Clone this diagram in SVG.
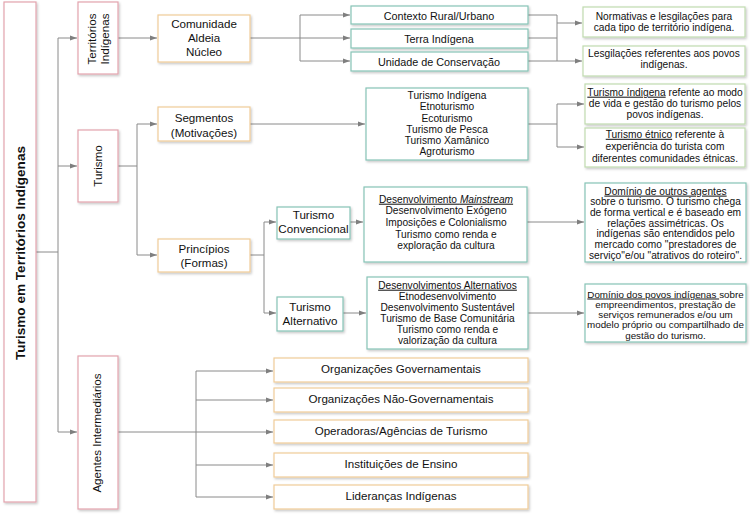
<svg xmlns="http://www.w3.org/2000/svg" width="750" height="515" viewBox="0 0 750 515">
<defs>
<filter id="sh" x="-10%" y="-10%" width="130%" height="130%">
<feDropShadow dx="1.2" dy="1.5" stdDeviation="0.9" flood-color="#000" flood-opacity="0.22"/>
</filter>
<marker id="ar" markerUnits="userSpaceOnUse" markerWidth="7" markerHeight="6" refX="7" refY="3" orient="auto">
<path d="M0,0.6 L7,3 L0,5.4 z" fill="#7f7f7f"/>
</marker>
</defs>
<style>
rect{fill:#fff;stroke-width:1.2;filter:url(#sh)}
.pk{stroke:#e3a3ad}
.or{stroke:#f0cc98}
.tl{stroke:#86c4b6}
.gr{stroke:#c0dbb0}
text{font-family:"Liberation Sans",Arial,sans-serif;fill:#111;text-anchor:middle}
.t12{font-size:11.6px}
.t11{font-size:10.8px}
.t10{font-size:10.2px}
.t9{font-size:9.8px}
.ttl{font-size:13.6px;font-weight:bold}
.u{text-decoration:underline}
#conn path{fill:none;stroke:#8a8a8a;stroke-width:1}
#conn path.a{marker-end:url(#ar)}
</style>
<rect width="750" height="515" fill="#fff" stroke="none" style="filter:none"/>

<g id="conn">
<path d="M36,252 H58 M58,38 V432"/>
<path class="a" d="M58,38 H77"/>
<path class="a" d="M58,166 H77"/>
<path class="a" d="M58,432 H77"/>
<path class="a" d="M118,38 H157"/>
<path class="a" d="M250,38 H350"/>
<path d="M300,15 V61"/>
<path class="a" d="M300,15 H350"/>
<path class="a" d="M300,61 H350"/>
<path d="M528,15 H557 M528,38 H557 M528,61 H557 M557,15 V61"/>
<path class="a" d="M557,23 H582"/>
<path class="a" d="M557,61 H582"/>
<path d="M118,166 H137 M137,124 V255"/>
<path class="a" d="M137,124 H157"/>
<path class="a" d="M137,255 H157"/>
<path class="a" d="M250,124 H365"/>
<path d="M528,124 H557 M557,104 V147"/>
<path class="a" d="M557,104 H584"/>
<path class="a" d="M557,147 H584"/>
<path d="M250,255 H264 M264,222 V313"/>
<path class="a" d="M264,222 H276"/>
<path class="a" d="M264,313 H276"/>
<path class="a" d="M350,222 H363"/>
<path class="a" d="M343,313 H366"/>
<path class="a" d="M527,222 H584"/>
<path class="a" d="M528,313 H584"/>
<path d="M118,432 H196 M196,371 V497"/>
<path class="a" d="M196,371 H273"/>
<path class="a" d="M196,400 H273"/>
<path class="a" d="M196,432 H273"/>
<path class="a" d="M196,465 H273"/>
<path class="a" d="M196,497 H273"/>
</g>

<g id="main">
<rect class="pk" x="4" y="2" width="32" height="500"/>
<text class="ttl" transform="translate(20,253) rotate(-90)" y="5">Turismo em Territórios Indígenas</text>
</g>
<g id="territorios">
<rect class="pk" x="78" y="2" width="40" height="72"/>
<text class="t12" transform="translate(98,39) rotate(-90)"><tspan x="0" y="-2.5">Territórios</tspan><tspan x="0" y="10.5">Indígenas</tspan></text>
</g>
<g id="turismo">
<rect class="pk" x="78" y="130" width="40" height="72"/>
<text class="t12" transform="translate(98,166) rotate(-90)" y="4">Turismo</text>
</g>
<g id="agentes">
<rect class="pk" x="78" y="356" width="40" height="153"/>
<text class="t12" transform="translate(98,433) rotate(-90)" y="3">Agentes Intermediários</text>
</g>

<g id="comunidade">
<rect class="or" x="158" y="15" width="92" height="47"/>
<text class="t12"><tspan x="204" y="28">Comunidade</tspan><tspan x="204" y="42">Aldeia</tspan><tspan x="204" y="56">Núcleo</tspan></text>
</g>
<g id="segmentos">
<rect class="or" x="158" y="107" width="92" height="34"/>
<text class="t12"><tspan x="204" y="121.5">Segmentos</tspan><tspan x="204" y="136.5">(Motivações)</tspan></text>
</g>
<g id="principios">
<rect class="or" x="158" y="239" width="92" height="33"/>
<text class="t12"><tspan x="204" y="253">Princípios</tspan><tspan x="204" y="266.5">(Formas)</tspan></text>
</g>

<g id="contexto">
<rect class="tl" x="351" y="6" width="177" height="18"/>
<text class="t11" x="439" y="19.5">Contexto Rural/Urbano</text>
</g>
<g id="terra">
<rect class="tl" x="351" y="29" width="177" height="19"/>
<text class="t11" x="439" y="42.8">Terra Indígena</text>
</g>
<g id="unidade">
<rect class="tl" x="351" y="52" width="177" height="19"/>
<text class="t11" x="439" y="65.6">Unidade de Conservação</text>
</g>

<g id="normativas">
<rect class="gr" x="583" y="7" width="162" height="30"/>
<text class="t10"><tspan x="664" y="19.5">Normativas e lesgilações para</tspan><tspan x="664" y="30.5">cada tipo de território indígena.</tspan></text>
</g>
<g id="legislacoes">
<rect class="gr" x="583" y="46" width="162" height="30"/>
<text class="t10"><tspan x="664" y="56.7">Lesgilações referentes aos povos</tspan><tspan x="664" y="67.7">indígenas.</tspan></text>
</g>

<g id="segmentos-lista">
<rect class="tl" x="366" y="88" width="162" height="72"/>
<text class="t10"><tspan x="447" y="99.3">Turismo Indígena</tspan><tspan x="447" y="110.4">Etnoturismo</tspan><tspan x="447" y="121.5">Ecoturismo</tspan><tspan x="447" y="132.6">Turismo de Pesca</tspan><tspan x="447" y="143.7">Turismo Xamânico</tspan><tspan x="447" y="154.8">Agroturismo</tspan></text>
</g>
<g id="turismo-indigena">
<rect class="gr" x="585" y="84" width="160" height="40"/>
<text class="t10"><tspan x="665" y="95.7"><tspan class="u">Turismo índigena</tspan> refente ao modo</tspan><tspan x="665" y="107">de vida e gestão do turismo pelos</tspan><tspan x="665" y="118.3">povos indígenas.</tspan></text>
</g>
<g id="turismo-etnico">
<rect class="gr" x="585" y="128" width="160" height="39"/>
<text class="t10"><tspan x="665" y="137.8"><tspan class="u">Turismo étnico</tspan> referente à</tspan><tspan x="665" y="150">experiência do turista com</tspan><tspan x="665" y="162.2">diferentes comunidades étnicas.</tspan></text>
</g>

<g id="convencional">
<rect class="tl" x="277" y="207" width="73" height="32"/>
<text class="t12"><tspan x="313.5" y="219">Turismo</tspan><tspan x="313.5" y="233">Convencional</tspan></text>
</g>
<g id="alternativo">
<rect class="tl" x="277" y="297" width="66" height="34"/>
<text class="t12"><tspan x="310" y="310.7">Turismo</tspan><tspan x="310" y="324.7">Alternativo</tspan></text>
</g>

<g id="mainstream">
<rect class="tl" x="364" y="187" width="163" height="75"/>
<text class="t10"><tspan x="446" y="202.7" class="u">Desenvolvimento <tspan font-style="italic">Mainstream</tspan></tspan><tspan x="446" y="214.3">Desenvolvimento Exógeno</tspan><tspan x="446" y="225.9">Imposições e Colonialismo</tspan><tspan x="446" y="237.5">Turismo como renda e</tspan><tspan x="446" y="249.1">exploração da cultura</tspan></text>
</g>
<g id="alternativos">
<rect class="tl" x="367" y="277" width="161" height="72"/>
<text class="t10"><tspan x="447.5" y="288.7" class="u">Desenvolvimentos Alternativos</tspan><tspan x="447.5" y="299.7">Etnodesenvolvimento</tspan><tspan x="447.5" y="310.7">Desenvolvimento Sustentável</tspan><tspan x="447.5" y="321.7">Turismo de Base Comunitária</tspan><tspan x="447.5" y="332.7">Turismo como renda e</tspan><tspan x="447.5" y="343.7">valorização da cultura</tspan></text>
</g>

<g id="dominio-outros">
<rect class="tl" x="585" y="183" width="161" height="79"/>
<text class="t10"><tspan x="665.5" y="194.6" class="u">Domínio de outros agentes</tspan><tspan x="665.5" y="205.3">sobre o turismo. O turismo chega</tspan><tspan x="665.5" y="216">de forma vertical e é baseado em</tspan><tspan x="665.5" y="226.7">relações assimétricas. Os</tspan><tspan x="665.5" y="237.4">indígenas são entendidos pelo</tspan><tspan x="665.5" y="248.1">mercado como "prestadores de</tspan><tspan x="665.5" y="258.8">serviço"e/ou "atrativos do roteiro".</tspan></text>
</g>
<g id="dominio-povos">
<rect class="tl" x="585" y="284" width="161" height="58"/>
<text class="t9"><tspan x="665.5" y="297.5"><tspan class="u">Domínio dos povos indígenas </tspan>sobre</tspan><tspan x="665.5" y="307.8">empreendimentos, prestação de</tspan><tspan x="665.5" y="318.1">serviços remunerados e/ou um</tspan><tspan x="665.5" y="328.4">modelo próprio ou compartilhado de</tspan><tspan x="665.5" y="338.7">gestão do turismo.</tspan></text>
</g>

<g id="org-gov">
<rect class="or" x="274" y="358" width="254" height="24"/>
<text class="t12" x="401" y="373.2">Organizações Governamentais</text>
</g>
<g id="org-ngov">
<rect class="or" x="274" y="388" width="254" height="24"/>
<text class="t12" x="401" y="403.2">Organizações Não-Governamentais</text>
</g>
<g id="operadoras">
<rect class="or" x="274" y="420" width="254" height="23"/>
<text class="t12" x="401" y="435.2">Operadoras/Agências de Turismo</text>
</g>
<g id="instituicoes">
<rect class="or" x="274" y="453" width="254" height="24"/>
<text class="t12" x="401" y="468.2">Instituições de Ensino</text>
</g>
<g id="liderancas">
<rect class="or" x="274" y="485" width="254" height="24"/>
<text class="t12" x="401" y="500.2">Lideranças Indígenas</text>
</g>
</svg>
